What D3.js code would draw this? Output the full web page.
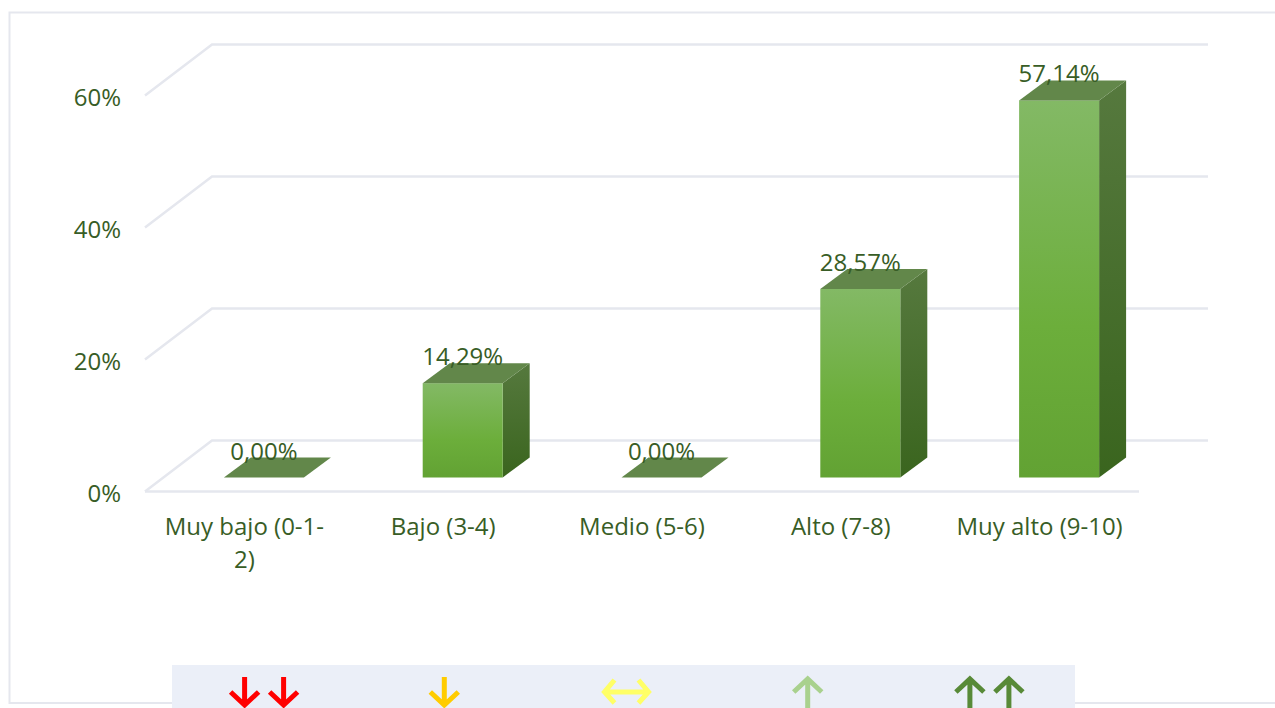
<!DOCTYPE html>
<html>
<head>
<meta charset="utf-8">
<script src="https://cdnjs.cloudflare.com/ajax/libs/d3/7.8.5/d3.min.js"></script>
<style>
html, body { margin: 0; padding: 0; background: #fff; overflow: hidden; }
text { font-family: "Open Sans", sans-serif; fill: #385d26; }
</style>
</head>
<body>
<script>
// values
var categories = ["Muy bajo (0-1-2)", "Bajo (3-4)", "Medio (5-6)", "Alto (7-8)", "Muy alto (9-10)"];
var categoryLines = [["Muy bajo (0-1-", "2)"], ["Bajo (3-4)"], ["Medio (5-6)"], ["Alto (7-8)"], ["Muy alto (9-10)"]];
var values = [0, 14.29, 0, 28.57, 57.14];
var valueLabels = ["0,00%", "14,29%", "0,00%", "28,57%", "57,14%"];
var yTicks = [0, 20, 40, 60];
var arrowColors = ["#ff0000", "#ffcc00", "#ffff66", "#a9d18e", "#588a38"];
var arrowKinds = ["down2", "down", "both", "up", "up2"];

var width = 1275, height = 708;
var floorDx = 67, floorDy = -51;   // wall depth
var barDx = 27, barDy = -20;       // bar depth
var barOffX = 19.5, barOffY = -14; // bar sits in the middle of the floor
var barWidth = 80;
var lineColor = "#e5e7ee";

var canvas = d3.select("body").append("svg")
	.attr("width", width)
	.attr("height", height);

var x = d3.scaleBand().domain(categories).range([145, 1139]);
var y = d3.scaleLinear().domain([0, 60]).range([491.5, 95.5]);

// frame, the right side runs off the page
canvas.append("path")
	.attr("d", "M1275,12.5H9.5V703H1275")
	.style("fill", "none")
	.style("stroke", lineColor)
	.style("stroke-width", 2);

// gradients
var defs = canvas.append("defs");
function gradient(id, stops){
	var g = defs.append("linearGradient").attr("id", id)
		.attr("x1", 0).attr("y1", 0).attr("x2", 0).attr("y2", 1);
	stops.forEach(function(s){
		g.append("stop").attr("offset", s[0]).attr("stop-color", s[1]);
	});
}
gradient("front", [[0, "#83b965"], [0.6, "#6cae3b"], [1, "#62a233"]]);
gradient("side", [[0, "#56793e"], [1, "#3a651e"]]);

// gridlines
yTicks.forEach(function(t){
	var pts = [[x.range()[0], y(t)], [x.range()[0] + floorDx, y(t) + floorDy], [1208, y(t) + floorDy]];
	canvas.append("path")
		.attr("d", d3.line()(pts))
		.style("fill", "none")
		.style("stroke", lineColor)
		.style("stroke-width", 2.5);
});
canvas.append("line")
	.attr("x1", x.range()[0]).attr("y1", y(0))
	.attr("x2", x.range()[1]).attr("y2", y(0))
	.style("stroke", lineColor)
	.style("stroke-width", 2.5);

// y axis labels
canvas.selectAll(".yLabel")
	.data(yTicks)
	.enter()
	.append("text")
	.attr("class", "yLabel")
	.attr("x", 121)
	.attr("y", function(d){return y(d) + 10;})
	.attr("text-anchor", "end")
	.attr("font-size", "24px")
	.text(function(d){return d + "%";});

// bars
var bars = canvas.selectAll(".bar")
	.data(categories)
	.enter()
	.append("g")
	.attr("class", "bar")
	.attr("transform", function(d, i){
		var left = x(d) + x.bandwidth() / 2 + barOffX - barWidth / 2;
		return "translate(" + left + "," + barOffY + ")";
	});

function barTop(i){ return y(values[i]); }

bars.filter(function(d, i){return values[i] > 0;}).append("path")
	.attr("d", function(d){
		var i = categories.indexOf(d);
		return d3.line()([[barWidth, barTop(i)], [barWidth + barDx, barTop(i) + barDy], [barWidth + barDx, y(0) + barDy], [barWidth, y(0)]]) + "Z";
	})
	.style("fill", "url(#side)");

bars.filter(function(d, i){return values[i] > 0;}).append("rect")
	.attr("x", 0)
	.attr("y", function(d){return barTop(categories.indexOf(d));})
	.attr("width", barWidth)
	.attr("height", function(d){return y(0) - barTop(categories.indexOf(d));})
	.style("fill", "url(#front)");

bars.append("path")
	.attr("d", function(d){
		var i = categories.indexOf(d);
		return d3.line()([[0, barTop(i)], [barDx, barTop(i) + barDy], [barWidth + barDx, barTop(i) + barDy], [barWidth, barTop(i)]]) + "Z";
	})
	.style("fill", "#62874a");

// value labels
canvas.selectAll(".valueLabel")
	.data(categories)
	.enter()
	.append("text")
	.attr("class", "valueLabel")
	.attr("x", function(d){return x(d) + x.bandwidth() / 2 + barOffX;})
	.attr("y", function(d, i){return y(values[i]) + barOffY - 18;})
	.attr("text-anchor", "middle")
	.attr("font-size", "24px")
	.text(function(d, i){return valueLabels[i];});

// category labels
canvas.selectAll(".catLabel")
	.data(categories)
	.enter()
	.append("text")
	.attr("class", "catLabel")
	.attr("text-anchor", "middle")
	.attr("font-size", "24px")
	.each(function(d, i){
		var label = d3.select(this);
		categoryLines[i].forEach(function(line, n){
			label.append("tspan")
				.attr("x", x(d) + x.bandwidth() / 2)
				.attr("y", 535 + n * 33)
				.text(line);
		});
	});

// legend strip
canvas.append("rect")
	.attr("x", 172).attr("y", 665)
	.attr("width", 903).attr("height", 43)
	.style("fill", "#ebeff8");

var arrowX = d3.scaleBand().domain(arrowKinds).range([173.5, 1079.5]);

function arrowDown(g, cx, color){
	g.append("path")
		.attr("d", "M" + cx + ",677V704M" + (cx - 14) + ",692L" + cx + ",705L" + (cx + 14) + ",692")
		.style("fill", "none").style("stroke", color).style("stroke-width", 5);
}
function arrowUp(g, cx, color){
	g.append("path")
		.attr("d", "M" + cx + ",708V681M" + (cx - 14) + ",692L" + cx + ",679L" + (cx + 14) + ",692")
		.style("fill", "none").style("stroke", color).style("stroke-width", 5);
}
function arrowBoth(g, cx, color){
	g.append("path")
		.attr("d", "M" + (cx - 22) + ",692H" + (cx + 22) + "M" + (cx - 12) + ",680L" + (cx - 22) + ",692L" + (cx - 12) + ",703M" + (cx + 12) + ",680L" + (cx + 22) + ",692L" + (cx + 12) + ",703")
		.style("fill", "none").style("stroke", color).style("stroke-width", 5);
}

canvas.selectAll(".arrow")
	.data(arrowKinds)
	.enter()
	.append("g")
	.attr("class", "arrow")
	.each(function(d, i){
		var g = d3.select(this), cx = arrowX(d) + arrowX.bandwidth() / 2;
		if (d == "down2"){ arrowDown(g, cx - 19.5, arrowColors[i]); arrowDown(g, cx + 19.5, arrowColors[i]); }
		if (d == "down") arrowDown(g, cx - 1, arrowColors[i]);
		if (d == "both") arrowBoth(g, cx, arrowColors[i]);
		if (d == "up") arrowUp(g, cx, arrowColors[i]);
		if (d == "up2"){ arrowUp(g, cx - 19, arrowColors[i]); arrowUp(g, cx + 20, arrowColors[i]); }
	});
</script>
</body>
</html>
